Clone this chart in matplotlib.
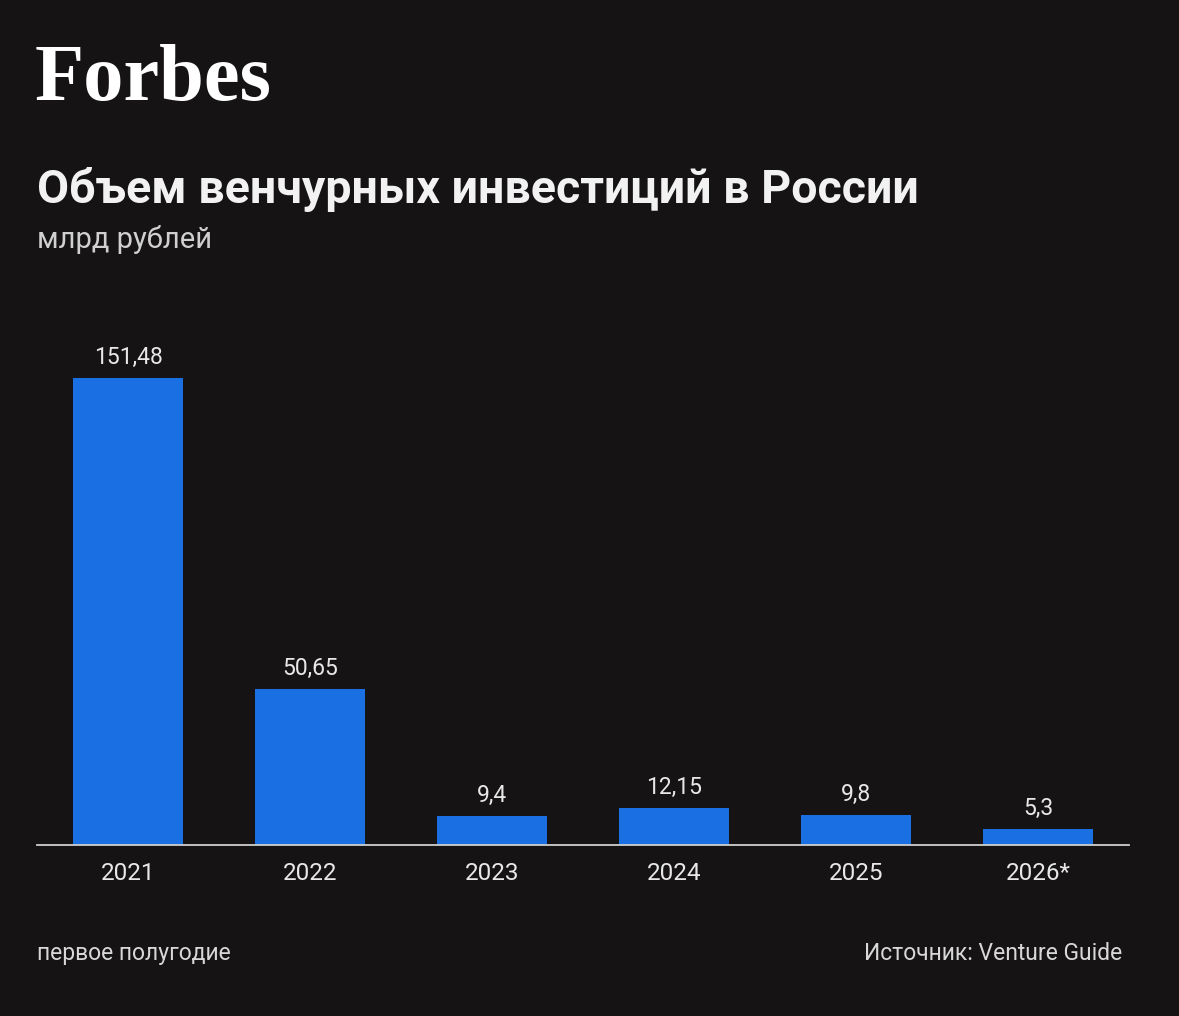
import matplotlib.pyplot as plt

years = ['2021', '2022', '2023', '2024', '2025', '2026*']
values = [151.48, 50.65, 9.4, 12.15, 9.8, 5.3]
labels = ['151,48', '50,65', '9,4', '12,15', '9,8', '5,3']

bg = '#151314'
blue = '#1a6fe3'
W, H = 1179, 1016

fig = plt.figure(figsize=(W / 100, H / 100), dpi=100, facecolor=bg)
ax = fig.add_axes([37 / W, (H - 845) / H, 1092 / W, 493.3 / H])
ax.set_facecolor(bg)
x = range(len(values))
ax.bar(x, values, width=0.6, color=blue)
ax.set_xlim(-0.5, 5.5)
ax.set_ylim(0, 160)
for i, (v, s) in enumerate(zip(values, labels)):
    ax.text(i, v + 2.8, s, ha='center', va='bottom', color='#e8e8e8',
            fontsize=16.5, family='Roboto')
ax.set_xticks(list(x))
ax.set_xticklabels(years, fontsize=17.5, color='#e8e8e8', family='Roboto')
ax.tick_params(axis='x', length=0, pad=12)
ax.set_yticks([])
for side in ['top', 'right', 'left']:
    ax.spines[side].set_visible(False)
ax.spines['bottom'].set_color('#cfcfcf')
ax.spines['bottom'].set_linewidth(1.3)

fig.text(35 / W, 1 - 100 / H, 'Forbes', family='Liberation Serif', weight='bold',
         fontsize=58, color='white', va='baseline')
fig.text(37 / W, 1 - 203 / H, 'Объем венчурных инвестиций в России', family='Roboto',
         weight='bold', fontsize=33.5, color='#f2f2f2', va='baseline')
fig.text(37 / W, 1 - 248 / H, 'млрд рублей', family='Roboto', fontsize=21,
         color='#d0d0d0', va='baseline')
fig.text(37 / W, 1 - 960 / H, 'первое полугодие', family='Roboto', fontsize=16.5,
         color='#d8d8d8', va='baseline')
fig.text(1122 / W, 1 - 960 / H, 'Источник: Venture Guide', family='Roboto', fontsize=16.5,
         color='#d8d8d8', va='baseline', ha='right')

fig.savefig('out.png', facecolor=bg)
